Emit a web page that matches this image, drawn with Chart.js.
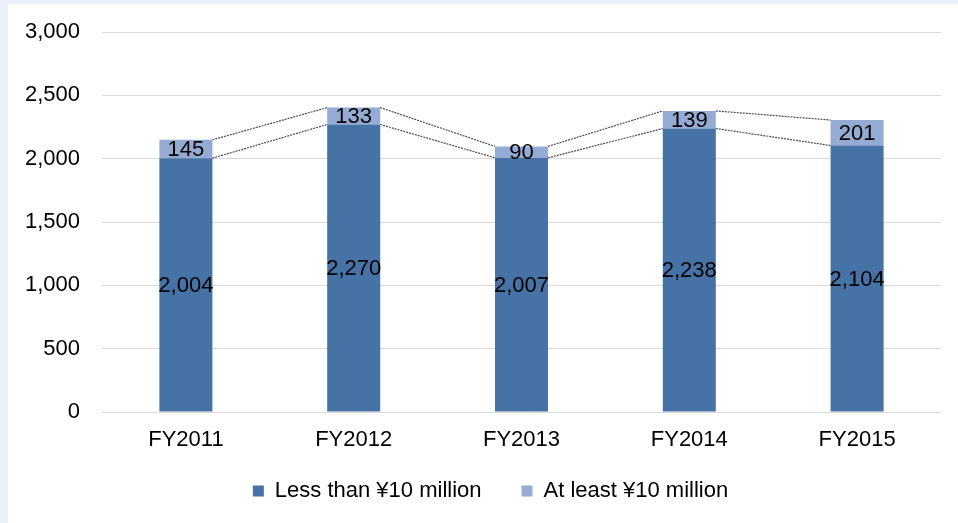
<!DOCTYPE html>
<html>
<head>
<meta charset="utf-8">
<script src="https://cdn.jsdelivr.net/npm/chart.js@4.4.1/dist/chart.umd.min.js"></script>
<style>
    body { margin: 0; background: #eaf1fb; }
    #wrap { position: absolute; left: 8px; top: 4px; width: 950px; height: 519px; background: #ffffff; }
</style>
</head>
<body>
<div id="wrap"><canvas id="amount_chart"></canvas></div>
<script>
// chart values
const years = ["FY2011", "FY2012", "FY2013", "FY2014", "FY2015"];
const lessThan10m = [2004, 2270, 2007, 2238, 2104];
const atLeast10m = [145, 133, 90, 139, 201];
const yTicks = [0, 500, 1000, 1500, 2000, 2500, 3000];

const fontFamily = "'Liberation Sans', Arial, sans-serif";

// dotted lines joining the tops of each series from bar to bar
const seriesLines = {
    id: "seriesLines",
    afterDatasetsDraw: (chart) => {
        const ctx = chart.ctx;
        ctx.save();
        ctx.strokeStyle = "#4d4d4d";
        ctx.lineWidth = 1.2;
        ctx.setLineDash([2, 1]);
        chart.data.datasets.forEach((ds, i) => {
            const bars = chart.getDatasetMeta(i).data;
            for (let j = 0; j < bars.length - 1; j++) {
                const a = bars[j];
                const b = bars[j + 1];
                ctx.beginPath();
                ctx.moveTo(a.x + a.width / 2, a.y);
                ctx.lineTo(b.x - b.width / 2, b.y);
                ctx.stroke();
            }
        });
        ctx.restore();
    }
};

// value labels in the middle of each bar segment
const barLabels = {
    id: "barLabels",
    afterDraw: (chart) => {
        const ctx = chart.ctx;
        ctx.save();
        ctx.fillStyle = "#000000";
        ctx.font = "22px " + fontFamily;
        ctx.textAlign = "center";
        ctx.textBaseline = "middle";
        chart.data.datasets.forEach((ds, i) => {
            chart.getDatasetMeta(i).data.forEach((bar, j) => {
                const text = ds.data[j].toLocaleString("en-US");
                ctx.fillText(text, bar.x, (bar.y + bar.base) / 2 + 1);
            });
        });
        ctx.restore();
    }
};

// move the legend a bit right and up, like the original
// (its box is made taller again so the text is not clipped)
const legendShift = {
    id: "legendShift",
    afterLayout: (chart) => {
        chart.legend.left += 16;
        chart.legend.right += 16;
        chart.legend.top -= 22;
        chart.legend.bottom += 40;
    }
};

new Chart("amount_chart", {
    type: "bar",
    data: {
        labels: years,
        datasets: [{
            label: "Less than ¥10 million",
            data: lessThan10m,
            backgroundColor: "#4672a6"
        }, {
            label: "At least ¥10 million",
            data: atLeast10m,
            backgroundColor: "#94abd4"
        }]
    },
    options: {
        responsive: true,
        maintainAspectRatio: false,
        animation: false,
        datasets: {
            bar: { categoryPercentage: 0.316, barPercentage: 1 }
        },
        layout: {
            padding: { left: 0, right: 17, top: 28, bottom: 11 }
        },
        scales: {
            x: {
                stacked: true,
                grid: { display: false, drawTicks: false },
                border: { display: false },
                ticks: {
                    color: "#000000",
                    padding: 15,
                    font: { family: fontFamily, size: 22 }
                },
                afterFit: (scale) => { scale.height = 50; }
            },
            y: {
                stacked: true,
                min: 0,
                max: 3000,
                afterBuildTicks: (scale) => {
                    scale.ticks = yTicks.map(v => ({ value: v }));
                },
                // invisible tick marks keep the labels away from the plot
                grid: { color: "#d9d9d9", drawTicks: true, tickLength: 10, tickColor: "rgba(0,0,0,0)" },
                border: { display: false },
                ticks: {
                    color: "#000000",
                    padding: 12,
                    font: { family: fontFamily, size: 22 },
                    callback: (v) => v.toLocaleString("en-US")
                },
                afterFit: (scale) => { scale.width = 94; }
            }
        },
        plugins: {
            legend: {
                position: "bottom",
                maxHeight: 50,
                labels: {
                    color: "#000000",
                    boxWidth: 11,
                    boxHeight: 11,
                    padding: 40,
                    font: { family: fontFamily, size: 22 }
                }
            },
            tooltip: { enabled: false }
        }
    },
    plugins: [seriesLines, barLabels, legendShift]
});
</script>
</body>
</html>
